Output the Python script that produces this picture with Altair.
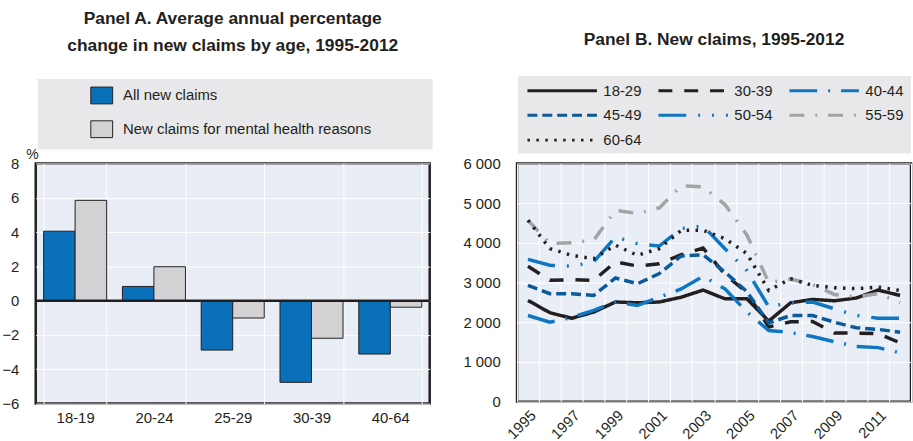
import altair as alt
import pandas as pd

FONT = "Liberation Sans, Arial, sans-serif"
INK = "#231f20"
PLOT_BG = "#e9edf5"
BOX_BG = "#e8e8ea"

# ---- Panel A: average annual % change in new claims, by age ----
age_groups_a = ["18-19", "20-24", "25-29", "30-39", "40-64"]
all_new_claims = [4.05, 0.83, -2.88, -4.76, -3.11]
mental_health_claims = [5.85, 1.98, -1.01, -2.19, -0.38]
series_a = ["All new claims", "New claims for mental health reasons"]
colors_a = ["#0a70b9", "#d2d2d4"]
y_ticks_a = [-6, -4, -2, 0, 2, 4, 6, 8]

# ---- Panel B: new claims per year, by age ----
years = list(range(1995, 2013))
age_groups_b = ["18-29", "30-39", "40-44", "45-49", "50-54", "55-59", "60-64"]
claims_18_29 = [2550, 2240, 2100, 2255, 2510, 2490, 2510, 2630, 2810, 2590, 2590, 2030, 2490, 2575, 2540, 2610, 2810, 2675]
claims_30_39 = [3410, 3055, 3070, 3055, 3520, 3415, 3475, 3700, 3870, 3200, 2750, 1880, 2010, 2020, 1730, 1725, 1715, 1480]
claims_40_44 = [2170, 2000, 2120, 2300, 2510, 2420, 2630, 2840, 3155, 2840, 2260, 1790, 1740, 1640, 1510, 1390, 1360, 1230]
claims_45_49 = [2930, 2720, 2720, 2675, 3115, 2970, 3225, 3670, 3700, 3265, 2770, 1980, 2170, 2170, 2000, 1860, 1820, 1750]
claims_50_54 = [3585, 3435, 3410, 3520, 4150, 3980, 3920, 4360, 4425, 3850, 3300, 2390, 2490, 2510, 2340, 2170, 2100, 2100]
claims_55_59 = [4570, 3980, 4005, 4065, 4820, 4740, 4880, 5435, 5410, 4965, 4200, 3000, 3090, 2950, 2700, 2640, 2720, 2490]
claims_60_64 = [4570, 3855, 3685, 3600, 3940, 3685, 3855, 4315, 4315, 4105, 3730, 2800, 3095, 2930, 2870, 2845, 2885, 2800]
line_colors = [INK, INK, "#0f77c2", "#0b5a99", "#0f77c2", "#a3a3a3", INK]
line_dashes = [[1, 0], [14, 12], [28, 11, 2, 11], [10, 5], [28, 12, 2, 12, 2, 12], [15, 11, 2, 11], [2.5, 6.5]]
y_ticks_b = [0, 1000, 2000, 3000, 4000, 5000, 6000]

df_a = pd.DataFrame({
    "age": age_groups_a * 2,
    "series": [series_a[0]] * len(age_groups_a) + [series_a[1]] * len(age_groups_a),
    "value": all_new_claims + mental_health_claims,
})

series_b = [claims_18_29, claims_30_39, claims_40_44, claims_45_49, claims_50_54, claims_55_59, claims_60_64]
df_b = pd.DataFrame([
    {"year": yr, "group": grp, "claims": val}
    for grp, vals in zip(age_groups_b, series_b)
    for yr, val in zip(years, vals)
])

one_row = pd.DataFrame({"k": [0]})

# Panel A
legend_a = alt.Legend(
    title=None, orient="none", legendX=55, legendY=-80, direction="vertical",
    symbolType="M-1,-0.77H1V0.77H-1Z", symbolSize=484, symbolStrokeColor=INK,
    symbolStrokeWidth=1, symbolOpacity=1, labelOffset=10, rowPadding=12,
    labelFont=FONT, labelFontSize=15, labelColor=INK, padding=0, labelLimit=400,
)

# one y axis definition shared by every layer of panel A
y_axis_a = alt.Axis(
    values=y_ticks_a, title="%", titleAngle=0, titleAlign="left",
    titleBaseline="bottom", titleX=-10, titleY=-2,
    titleFont=FONT, titleFontSize=14, titleFontWeight="normal",
    titleColor=INK, labelPadding=17, labelOverlap=False, labelFlush=False, grid=True,
)
y_scale_a = alt.Scale(domain=[-6, 8], nice=False)

box_a = alt.Chart(one_row).mark_rect(color=BOX_BG).encode(
    x=alt.value(2), x2=alt.value(400), y=alt.value(-85), y2=alt.value(-14)
)

bars_a = alt.Chart(df_a).mark_bar(stroke=INK, strokeWidth=1, opacity=1).encode(
    x=alt.X("age:N", sort=age_groups_a, title=None,
            scale=alt.Scale(paddingInner=0.2, paddingOuter=0.1),
            axis=alt.Axis(labelAngle=0, tickBand="extent", grid=True, labelPadding=7)),
    xOffset=alt.XOffset("series:N", sort=series_a,
                        scale=alt.Scale(paddingInner=0, paddingOuter=0)),
    y=alt.Y("value:Q", scale=y_scale_a, axis=y_axis_a, title="%"),
    color=alt.Color("series:N", sort=series_a,
                    scale=alt.Scale(domain=series_a, range=colors_a), legend=legend_a),
)

# zero baseline across the plot
zero_a = alt.Chart(one_row).mark_rule(color=INK, strokeWidth=2.5).encode(
    y=alt.Y("k:Q", scale=y_scale_a, axis=y_axis_a, title="%")
)

panel_a = alt.layer(box_a, bars_a, zero_a).properties(
    width=397, height=242,
    title=alt.TitleParams(
        text=["Panel A. Average annual percentage", "change in new claims by age, 1995-2012"],
        font=FONT, fontSize=17.5, fontWeight="bold", color=INK, anchor="middle",
        frame="group", lineHeight=27, offset=25,
    ),
)

# Panel B: wide flat line swatches drawn from a short custom path
legend_b = alt.Legend(
    title=None, orient="none", legendX=37, legendY=-82, columns=3, direction="horizontal",
    symbolType="M-5,0H5", symbolSize=196, symbolStrokeWidth=3,
    labelOffset=33, columnPadding=10, rowPadding=8,
    labelFont=FONT, labelFontSize=15, labelColor=INK, padding=0,
)

box_b = alt.Chart(one_row).mark_rect(color=BOX_BG).encode(
    x=alt.value(1), x2=alt.value(397), y=alt.value(-88), y2=alt.value(-10)
)

lines_b = alt.Chart(df_b).mark_line(strokeWidth=3.5).encode(
    x=alt.X("year:O", title=None,
            scale=alt.Scale(type="band", paddingInner=0, paddingOuter=0),
            axis=alt.Axis(labelAngle=-45, labelAlign="right", labelBaseline="top",
                          tickBand="extent", grid=True, labelOverlap=False,
                          labelExpr="datum.value % 2 == 1 ? datum.label : ''",
                          labelPadding=6)),
    y=alt.Y("claims:Q", scale=alt.Scale(domain=[0, 6000], nice=False),
            axis=alt.Axis(values=y_ticks_b, title=None, labelPadding=17,
                          labelOverlap=False, labelFlush=False, grid=True,
                          labelExpr="replace(format(datum.value, ','), ',', ' ')")),
    color=alt.Color("group:N", scale=alt.Scale(domain=age_groups_b, range=line_colors),
                    legend=legend_b),
    strokeDash=alt.StrokeDash("group:N", scale=alt.Scale(domain=age_groups_b, range=line_dashes),
                              legend=legend_b),
)

panel_b = alt.layer(box_b, lines_b).properties(
    width=397, height=240,
    title=alt.TitleParams(
        text="Panel B. New claims, 1995-2012",
        font=FONT, fontSize=17.5, fontWeight="bold", color=INK, anchor="middle",
        frame="group", offset=28,
    ),
)

chart = alt.hconcat(panel_a, panel_b, spacing=27).resolve_scale(
    color="independent", strokeDash="independent"
).configure(
    padding={"left": 0, "top": 7, "right": 0, "bottom": 0},
    background="white",
).configure_view(
    fill=PLOT_BG, stroke=INK, strokeWidth=2.5,
).configure_axis(
    labelFont=FONT, labelFontSize=15, labelColor=INK,
    ticks=False, domain=False, gridColor="white", gridWidth=1, gridOpacity=1,
)

chart.save("out.html", embed_options={"renderer": "svg", "actions": False})
